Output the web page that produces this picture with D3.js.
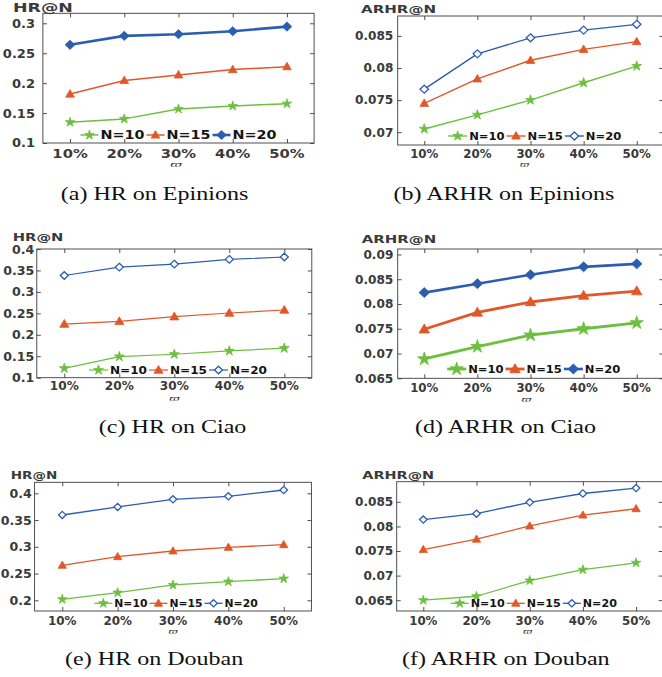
<!DOCTYPE html>
<html><head><meta charset="utf-8">
<script src="https://cdn.jsdelivr.net/npm/d3@7"></script>
<style>body{margin:0;background:#fff;overflow:hidden}svg{display:block}</style>
</head><body>
<script>
// ---------------- data ----------------
const categories = ["10%", "20%", "30%", "40%", "50%"];
const seriesNames = ["N=10", "N=15", "N=20"];
const xLabel = "\u03D6";

const hrEpinionsN10 = [0.1348, 0.1403, 0.1569, 0.1619, 0.1657];
const hrEpinionsN15 = [0.1818, 0.2044, 0.2138, 0.2227, 0.2276];
const hrEpinionsN20 = [0.2640, 0.2790, 0.2818, 0.2867, 0.2945];
const arhrEpinionsN10 = [0.0705, 0.0727, 0.0750, 0.0777, 0.0803];
const arhrEpinionsN15 = [0.0745, 0.0783, 0.0812, 0.0829, 0.0841];
const arhrEpinionsN20 = [0.0767, 0.0822, 0.0847, 0.0859, 0.0868];
const hrCiaoN10 = [0.1219, 0.1492, 0.1547, 0.1625, 0.1688];
const hrCiaoN15 = [0.2250, 0.2313, 0.2422, 0.2508, 0.2578];
const hrCiaoN20 = [0.3383, 0.3578, 0.3648, 0.3758, 0.3813];
const arhrCiaoN10 = [0.0689, 0.0714, 0.0737, 0.0750, 0.0762];
const arhrCiaoN15 = [0.0749, 0.0783, 0.0804, 0.0817, 0.0826];
const arhrCiaoN20 = [0.0823, 0.0841, 0.0859, 0.0875, 0.0881];
const hrDoubanN10 = [0.2019, 0.2143, 0.2287, 0.2349, 0.2405];
const hrDoubanN15 = [0.2654, 0.2816, 0.2922, 0.2990, 0.3040];
const hrDoubanN20 = [0.3595, 0.3745, 0.3888, 0.3944, 0.4062];
const arhrDoubanN10 = [0.0650, 0.0658, 0.0690, 0.0712, 0.0726];
const arhrDoubanN15 = [0.0753, 0.0774, 0.0801, 0.0823, 0.0836];
const arhrDoubanN20 = [0.0814, 0.0826, 0.0849, 0.0867, 0.0878];

const hrEpinionsTicks = [0.1, 0.15, 0.2, 0.25, 0.3];
const arhrEpinionsTicks = [0.07, 0.075, 0.08, 0.085];
const hrCiaoTicks = [0.1, 0.15, 0.2, 0.25, 0.3, 0.35, 0.4];
const arhrCiaoTicks = [0.065, 0.07, 0.075, 0.08, 0.085, 0.09];
const hrDoubanTicks = [0.2, 0.25, 0.3, 0.35, 0.4];
const arhrDoubanTicks = [0.065, 0.07, 0.075, 0.08, 0.085];

const hrEpinionsLimits = [0.1, 0.3167];
const arhrEpinionsLimits = [0.068, 0.0881];
const hrCiaoLimits = [0.1, 0.4];
const arhrCiaoLimits = [0.065, 0.0911];
const hrDoubanLimits = [0.18, 0.4206];
const arhrDoubanLimits = [0.0628, 0.0891];

const titles = ["HR@N", "ARHR@N", "HR@N", "ARHR@N", "HR@N", "ARHR@N"];
const captions = ["(a) HR on Epinions", "(b) ARHR on Epinions", "(c) HR on Ciao",
                  "(d) ARHR on Ciao", "(e) HR on Douban", "(f) ARHR on Douban"];

// ---------------- styles / layout ----------------
const colors = ["#6cbf3f", "#e0582a", "#2d5db0"];
const SANS = "DejaVu Sans, Verdana, sans-serif";
const SERIF = "Liberation Serif, Times New Roman, serif";
const TXT = "#3a3a3a";

const layout = [
  {x0:42.9, x1:314.1, top:13.3, bottom:143, yLabR:35, yfs:12.3, ysx:1.06, xfs:12.3, xsx:1.2, xBase:157.5,
   vX:176, vBase:166.5, vfs:7.5, vsx:1.9, tX:13, tBase:11.7, tfs:12, tsx:1.45,
   legY:135, legCx:178.5, lfs:11.5, lsx:1.25, L:18, capCx:154.5, capBase:200,
   lw:[1.5,1.5,2.6], star:5, tri:5, dia:4.6, hollow:false},
  {x0:397.7, x1:663.3, top:16, bottom:145, yLabR:393.3, yfs:12.1, ysx:1.0, xfs:11.8, xsx:1.0, xBase:157.5,
   vX:524.5, vBase:166.5, vfs:7.5, vsx:1.5, tX:361, tBase:13.3, tfs:11, tsx:1.37,
   legY:136, legCx:534.7, lfs:10.5, lsx:1.1, L:19, capCx:504, capBase:200,
   lw:[1.4,1.4,1.4], star:5.2, tri:5, dia:4, hollow:true},
  {x0:36.8, x1:311.8, top:249, bottom:377.7, yLabR:34.3, yfs:12.6, ysx:1.0, xfs:12.1, xsx:1.0, xBase:390,
   vX:174.5, vBase:401, vfs:7.5, vsx:1.7, tX:12.7, tBase:240.5, tfs:11, tsx:1.34,
   legY:370, legCx:178, lfs:10.5, lsx:1.15, L:19, capCx:172.6, capBase:433,
   lw:[1.2,1.2,1.2], star:5.2, tri:5.2, dia:3.8, hollow:true},
  {x0:397.7, x1:663.3, top:249, bottom:378.3, yLabR:393.3, yfs:12.1, ysx:1.0, xfs:11.8, xsx:1.0, xBase:391.5,
   vX:526.5, vBase:402, vfs:7.5, vsx:1.6, tX:361.7, tBase:242.5, tfs:11, tsx:1.36,
   legY:369, legCx:533.7, lfs:10.5, lsx:1.1, L:19, capCx:505.5, capBase:433,
   lw:[2.8,2.8,2.6], star:7, tri:6, dia:5, hollow:false},
  {x0:34.6, x1:311.4, top:482.3, bottom:611, yLabR:31.8, yfs:12.6, ysx:1.0, xfs:11.7, xsx:1.02, xBase:624.5,
   vX:173, vBase:633.5, vfs:7.5, vsx:1.5, tX:10.7, tBase:479.3, tfs:10.5, tsx:1.29,
   legY:603.3, legCx:176, lfs:10.5, lsx:1.03, L:18, capCx:154.2, capBase:665,
   lw:[1.3,1.3,1.3], star:5, tri:4.8, dia:3.6, hollow:true},
  {x0:396.7, x1:662.7, top:481.7, bottom:611, yLabR:393.3, yfs:12.1, ysx:1.0, xfs:11.8, xsx:1.0, xBase:624.5,
   vX:527.5, vBase:633.5, vfs:7.5, vsx:1.5, tX:362.3, tBase:479.3, tfs:11, tsx:1.31,
   legY:603.3, legCx:533.8, lfs:10.5, lsx:1.06, L:18, capCx:505.8, capBase:665,
   lw:[1.3,1.3,1.3], star:5, tri:4.8, dia:3.6, hollow:true}
];

const panelData = [
  {series:[hrEpinionsN10, hrEpinionsN15, hrEpinionsN20], ticks:hrEpinionsTicks, limits:hrEpinionsLimits},
  {series:[arhrEpinionsN10, arhrEpinionsN15, arhrEpinionsN20], ticks:arhrEpinionsTicks, limits:arhrEpinionsLimits},
  {series:[hrCiaoN10, hrCiaoN15, hrCiaoN20], ticks:hrCiaoTicks, limits:hrCiaoLimits},
  {series:[arhrCiaoN10, arhrCiaoN15, arhrCiaoN20], ticks:arhrCiaoTicks, limits:arhrCiaoLimits},
  {series:[hrDoubanN10, hrDoubanN15, hrDoubanN20], ticks:hrDoubanTicks, limits:hrDoubanLimits},
  {series:[arhrDoubanN10, arhrDoubanN15, arhrDoubanN20], ticks:arhrDoubanTicks, limits:arhrDoubanLimits}
];

// ---------------- marker shapes (d3.symbol custom types; size = radius^2) ----------------
const starType = {draw(ctx, size){ const r = Math.sqrt(size), ri = r*0.382;
  for (let i=0;i<10;i++){ const a = -Math.PI/2 + i*Math.PI/5, rr = i%2 ? ri : r;
    const px = rr*Math.cos(a), py = rr*Math.sin(a); i ? ctx.lineTo(px,py) : ctx.moveTo(px,py);} ctx.closePath(); }};
const triType = {draw(ctx, size){ const r = Math.sqrt(size);
  for (let i=0;i<3;i++){ const a = -Math.PI/2 + i*2*Math.PI/3; const px=r*Math.cos(a), py=r*Math.sin(a)+r*0.12;
    i ? ctx.lineTo(px,py) : ctx.moveTo(px,py);} ctx.closePath(); }};
const diaType = {draw(ctx, size){ const r = Math.sqrt(size);
  ctx.moveTo(0,-r); ctx.lineTo(r*1.05,0); ctx.lineTo(0,r); ctx.lineTo(-r*1.05,0); ctx.closePath(); }};

function markerPath(k, L){
  const t = [starType, triType, diaType][k];
  const r = [L.star, L.tri, L.dia][k];
  return d3.symbol().type(t).size(r*r)();
}
function drawMarker(g, k, L, x, y){
  const hollow = k===2 && L.hollow;
  g.append("path").attr("d", markerPath(k, L)).attr("transform", `translate(${x},${y})`)
    .attr("fill", hollow ? "#fff" : colors[k]).attr("stroke", colors[k])
    .attr("stroke-width", hollow ? 1.3 : 0.8).attr("stroke-linejoin","miter");
}

function txt(g, x, y, s, o){
  return g.append("text").attr("transform", `translate(${x},${y}) scale(${o.sx||1},1)`)
    .attr("text-anchor", o.anchor||"start").attr("font-family", o.family||SANS)
    .attr("font-weight", o.weight||"bold").attr("font-size", o.fs).attr("font-style", o.style||"normal")
    .attr("fill", o.fill||TXT).attr("dy", o.dy||null).text(s);
}

const svg = d3.select("body").append("svg").attr("width", 662).attr("height", 677);

layout.forEach((L, p) => {
  const D = panelData[p];
  const g = svg.append("g");
  const x = d3.scalePoint().domain(categories).range([L.x0, L.x1]).padding(0.5);
  const y = d3.scaleLinear().domain(D.limits).range([L.bottom, L.top]);
  const fmt = v => String(+v.toFixed(4));

  // box + mirrored inward ticks
  g.append("rect").attr("x", L.x0).attr("y", L.top).attr("width", L.x1-L.x0).attr("height", L.bottom-L.top)
    .attr("fill", "none").attr("stroke", "#3c3c3c").attr("stroke-width", 0.9);
  const axes = [
    [d3.axisBottom(x), `translate(0,${L.bottom})`],
    [d3.axisTop(x), `translate(0,${L.top})`],
    [d3.axisLeft(y).tickValues(D.ticks), `translate(${L.x0},0)`],
    [d3.axisRight(y).tickValues(D.ticks), `translate(${L.x1},0)`]
  ];
  axes.forEach(([ax, tr]) => {
    const a = g.append("g").attr("transform", tr).call(ax.tickSize(-4).tickSizeOuter(0).tickFormat(""));
    a.select(".domain").remove();
    a.selectAll("line").attr("stroke", "#3c3c3c").attr("stroke-width", 0.9);
  });

  // tick labels
  D.ticks.forEach(v => txt(g, L.yLabR, y(v), fmt(v), {fs:L.yfs, sx:L.ysx, anchor:"end", dy:"0.36em"}));
  categories.forEach(c => txt(g, x(c), L.xBase, c, {fs:L.xfs, sx:L.xsx, anchor:"middle"}));
  txt(g, L.vX, L.vBase, xLabel, {fs:L.vfs, sx:L.vsx, anchor:"middle", family:"DejaVu Serif, serif", weight:"normal", style:"italic", fill:"#333"});
  txt(g, L.tX, L.tBase, titles[p], {fs:L.tfs, sx:L.tsx});

  // lines and markers
  D.series.forEach((vals, k) => {
    const line = d3.line().x((d,i) => x(categories[i])).y(d => y(d));
    g.append("path").datum(vals).attr("d", line).attr("fill", "none")
      .attr("stroke", colors[k]).attr("stroke-width", L.lw[k]).attr("stroke-linejoin", "round");
    vals.forEach((v, i) => drawMarker(g, k, L, x(categories[i]), y(v)));
  });

  // legend
  const lg = g.append("g");
  const items = seriesNames.map((n, k) => {
    const t = txt(lg, 0, 0, n, {fs:L.lfs, sx:L.lsx, fill:"#151515", dy:"0.36em"});
    return {t, w: t.node().getComputedTextLength()*L.lsx};
  });
  const gap = 2;
  const total = items.reduce((s, it) => s + L.L + gap + it.w + gap, -gap);
  let cx = L.legCx - total/2;
  items.forEach((it, k) => {
    lg.append("line").attr("x1", cx).attr("x2", cx+L.L).attr("y1", L.legY).attr("y2", L.legY)
      .attr("stroke", colors[k]).attr("stroke-width", L.lw[k]);
    drawMarker(lg, k, L, cx+L.L/2, L.legY);
    it.t.attr("transform", `translate(${cx+L.L+gap},${L.legY}) scale(${L.lsx},1)`).raise();
    cx += L.L + gap + it.w + gap;
  });

  // caption
  txt(svg, L.capCx, L.capBase, captions[p], {fs:18.5, sx:1.3, anchor:"middle", family:SERIF, weight:"normal", fill:"#111"});
});
</script>
</body></html>
